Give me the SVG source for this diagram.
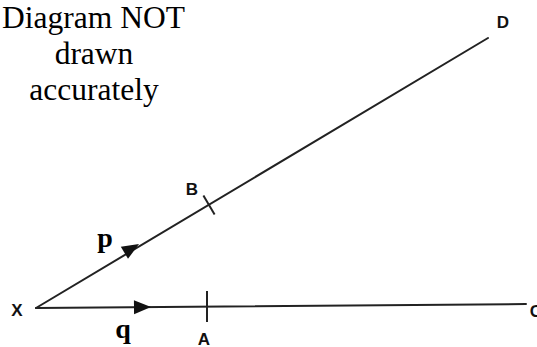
<svg xmlns="http://www.w3.org/2000/svg" width="537" height="347" viewBox="0 0 537 347">
<style>
.line{stroke:#222;stroke-width:2;fill:none;stroke-linecap:round}
.tick{stroke:#222;stroke-width:2;fill:none}
.pt{font-family:"Liberation Sans",Arial,sans-serif;font-weight:bold;font-size:17px;fill:#111;text-anchor:middle}
.vec{font-family:"Liberation Serif","Times New Roman","DejaVu Serif",serif;font-weight:bold;font-size:28px;fill:#000;text-anchor:middle}
.note{font-family:"Liberation Serif","Times New Roman","DejaVu Serif",serif;font-size:31.5px;fill:#000;text-anchor:middle}
</style>
<defs>
<path id="ah" d="M0,0 L-17,-7 L-17,7 Z" fill="#111"/>
</defs>
<rect width="537" height="347" fill="#fff"/>
<g id="note">
<text class="note" x="93.5" y="28">Diagram NOT</text>
<text class="note" x="94" y="64">drawn</text>
<text class="note" x="94" y="100">accurately</text>
</g>
<g id="connectors">
<line class="line" x1="36" y1="308" x2="488" y2="38"/>
<line class="line" x1="36" y1="308" x2="526" y2="304"/>
<use href="#ah" transform="translate(139,244) rotate(-30.9)"/>
<use href="#ah" transform="translate(151,307) rotate(-0.5)"/>
<line class="tick" x1="203.4" y1="195.6" x2="214.6" y2="214.4"/>
<line class="tick" x1="207" y1="291" x2="207" y2="322"/>
</g>
<g id="X"><text class="pt" x="17" y="316">X</text></g>
<g id="B"><text class="pt" x="192" y="195">B</text></g>
<g id="D"><text class="pt" x="503" y="28">D</text></g>
<g id="A"><text class="pt" x="204" y="345">A</text></g>
<g id="C"><text class="pt" x="536" y="317">C</text></g>
<g id="p"><text class="vec" x="105" y="247">p</text></g>
<g id="q"><text class="vec" x="123" y="338">q</text></g>
</svg>
